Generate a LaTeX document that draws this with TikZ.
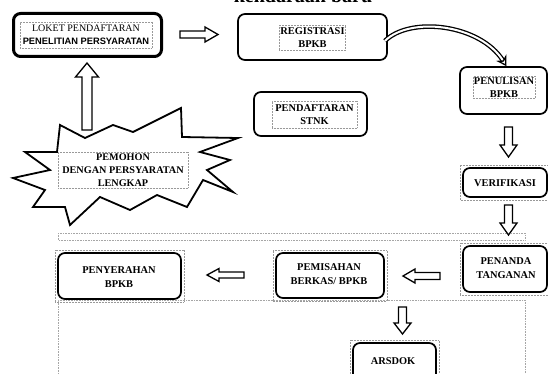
\documentclass[tikz,border=0pt]{standalone}
\usepackage{fontspec}
\setmainfont{Liberation Serif}
\newfontfamily\lsans{Liberation Sans}
\usetikzlibrary{arrows.meta,calc}
\newcommand\harrow[6]{\draw[barrow] (#1,#3-#4) -- ({#2-(#6)},#3-#4) -- ({#2-(#6)},#3-#5) -- (#2,#3) -- ({#2-(#6)},#3+#5) -- ({#2-(#6)},#3+#4) -- (#1,#3+#4) -- cycle;}
\newcommand\varrow[6]{\draw[barrow] (#3-#4,#1) -- (#3-#4,{#2-(#6)}) -- (#3-#5,{#2-(#6)}) -- (#3,#2) -- (#3+#5,{#2-(#6)}) -- (#3+#4,{#2-(#6)}) -- (#3+#4,#1) -- cycle;}
\begin{document}
\begin{tikzpicture}[x={(1pt,0)}, y={(0,-1pt)},
  box/.style={draw, line width=1.7pt, rounded corners=7pt, fill=white, inner sep=0pt},
  lab/.style={font=\fontsize{10.4}{13.5}\selectfont\bfseries, align=center, inner sep=1pt},
  frame/.style={draw=gray!80, densely dotted, line width=0.5pt},
  barrow/.style={draw, line width=1.3pt, fill=white, line join=miter},
  dotline/.style={draw=gray!70, densely dotted, line width=0.6pt}]
\useasboundingbox (0,0) rectangle (548,374);
\fill[white] (0,0) rectangle (548,374);
% title (cut off at top, as in the reference)
\node[font=\fontsize{20}{20}\selectfont\bfseries, anchor=base, inner sep=0pt] (title) at (303,3) {kendaraan baru};
% dotted background lines
\draw[dotline] (58,233) rectangle (525,240);
\draw[dotline] (58,380) -- (58,300) -- (525,300) -- (525,380);
% boxes
\node[box, line width=3pt, minimum width=148pt, minimum height=43pt] (loket) at (87.5,35) {};
\node[box, minimum width=149pt, minimum height=46pt] (reg) at (312.5,37) {};
\node[box, minimum width=87pt, minimum height=47pt] (penul) at (503.5,90.5) {};
\node[box, minimum width=113pt, minimum height=44pt] (stnk) at (310.5,114) {};
\node[box, minimum width=84pt, minimum height=29pt] (verif) at (505,182.5) {};
\node[box, minimum width=84pt, minimum height=46pt] (penanda) at (505,269) {};
\node[box, minimum width=108pt, minimum height=45pt] (pemis) at (330,275.5) {};
\node[box, minimum width=123pt, minimum height=46pt] (penyer) at (119.5,276) {};
\node[box, minimum width=83pt, minimum height=46pt] (arsdok) at (394.5,366) {};
% outer dotted frames
\foreach \n in {verif,penanda,pemis,penyer,arsdok}
  \draw[frame] ($(\n.south west)+(-2,2)$) rectangle ($(\n.north east)+(2,-2)$);
% texts
\node[lab, frame, minimum width=132pt, minimum height=26pt, font=\fontsize{10}{13}\selectfont] (loketT) at (86,35)
  {LOKET PENDAFTARAN\\{\lsans\bfseries\fontsize{9.3}{11}\selectfont PENELITIAN PERSYARATAN}};
\node[lab, frame, minimum width=65pt, minimum height=25pt] (regT) at (312.5,37.5) {REGISTRASI\\BPKB};
\node[lab, frame, minimum width=62pt, minimum height=21pt] (penulT) at (504,87.5) {PENULISAN\\BPKB};
\node[lab, frame, minimum width=85pt, minimum height=27pt] (stnkT) at (314.5,114.5) {PENDAFTARAN\\STNK};
\node[lab] (verifT) at (505,183) {VERIFIKASI};
\node[lab] (penandaT) at (506,268) {PENANDA\\TANGANAN};
\node[lab] (pemisT) at (329,274) {PEMISAHAN\\BERKAS/ BPKB};
\node[lab] (penyerT) at (119,277) {PENYERAHAN\\BPKB};
\node[lab] (arsdokT) at (393,361) {ARSDOK};
% star
\draw[line width=1.8pt, fill=white, line join=miter]
 (60,125) -- (85,138) -- (113,125) -- (133,132) -- (181,108) -- (182,137) -- (238,138)
 -- (200,152) -- (230,160) -- (207,170) -- (233,192) -- (203,180) -- (187,207) -- (157,195)
 -- (130,210) -- (100,197) -- (70,225) -- (65,207) -- (33,207) -- (45,190) -- (13,178)
 -- (50,170) -- (25,152) -- (57,152) -- cycle;
\node[lab, frame, minimum width=130pt, minimum height=36pt, font=\fontsize{10.2}{13}\selectfont\bfseries] (pem) at (123,170)
  {PEMOHON\\DENGAN PERSYARATAN\\LENGKAP};
% block arrows
\harrow{180}{218}{34.5}{3.5}{7.5}{13}
\varrow{130}{63}{87}{5}{11.5}{-14}
\varrow{127}{157}{508.5}{4}{8.5}{12}
\varrow{205}{235}{508.5}{4}{8.5}{12}
\harrow{440}{403}{276}{3.5}{7}{-12}
\harrow{244}{207}{275}{3}{6.5}{-12}
\varrow{307}{334}{402.5}{4}{8.5}{11}
% curved arrow
\draw[line width=1.3pt, double=white, double distance=2pt, -{Stealth[open,length=10pt,width=12pt]}]
  ($(reg.east)+(-3,4)$) .. controls (410,16) and (480,24) .. ($(penul.north)+(3,0)$);
\end{tikzpicture}
\end{document}
